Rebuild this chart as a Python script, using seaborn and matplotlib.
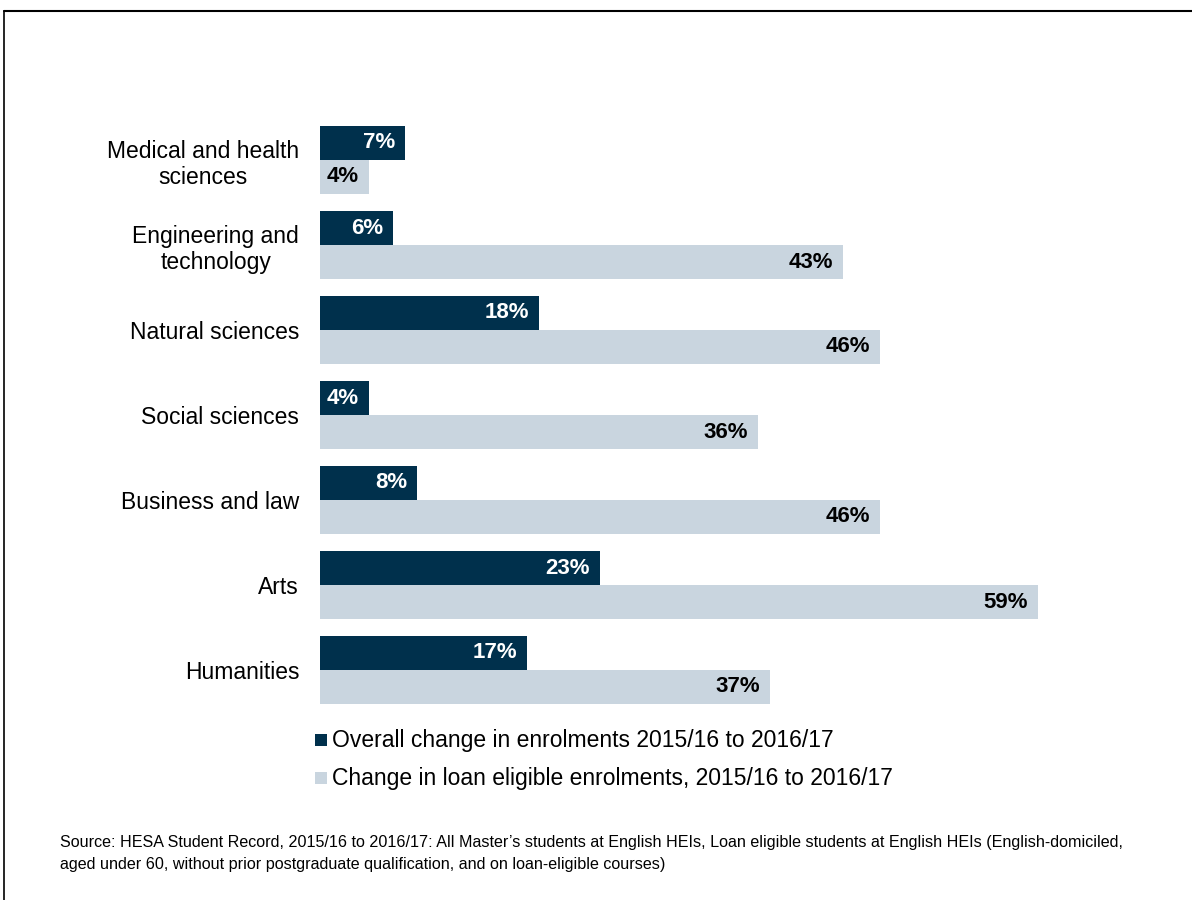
import matplotlib
matplotlib.use("Agg")
import matplotlib.pyplot as plt
import matplotlib.lines as mlines
import pandas as pd
import seaborn as sns

categories = ["Medical and health\nsciences", "Engineering and\ntechnology",
              "Natural sciences", "Social sciences", "Business and law",
              "Arts", "Humanities"]
overall = [7, 6, 18, 4, 8, 23, 17]
loan = [4, 43, 46, 36, 46, 59, 37]
series = ["Overall change in enrolments 2015/16 to 2016/17",
          "Change in loan eligible enrolments, 2015/16 to 2016/17"]
colors = ["#00304c", "#c9d5df"]

df = pd.DataFrame({
    "Subject": categories * 2,
    "Change": overall + loan,
    "Series": [series[0]] * len(categories) + [series[1]] * len(categories),
})

sns.set_style("white")
plt.rcParams["font.family"] = ["Liberation Sans", "DejaVu Sans"]
plt.rcParams["text.color"] = "black"
plt.rcParams["ytick.color"] = "black"
plt.rcParams["ytick.labelcolor"] = "black"

fig = plt.figure(figsize=(11.92, 9), dpi=100)
ax = fig.add_axes([320 / 1192, 1 - 712.5 / 900, 0.6534, 595 / 900])

sns.barplot(data=df, y="Subject", x="Change", hue="Series", orient="h",
            palette=colors, width=0.8, gap=0, saturation=1, linewidth=0,
            ax=ax, legend=False)

ax.set_xlim(0, 64)
ax.set_xlabel("")
ax.set_ylabel("")
ax.set_xticks([])
for s in ax.spines.values():
    s.set_visible(False)
ax.tick_params(axis="y", length=0, pad=15, labelsize=16.5)
for t in ax.get_yticklabels():
    t.set_multialignment("center")

# value labels inside bar ends
for cont, tc in zip(ax.containers, ["white", "black"]):
    for bar in cont:
        w = bar.get_width()
        ax.text(w - 0.8, bar.get_y() + bar.get_height() / 2, f"{w:.0f}%",
                ha="right", va="center", color=tc, fontsize=16, fontweight="bold")

# legend
for i, (lab, c) in enumerate(zip(series, colors)):
    y = 1 - (740 + 38 * i) / 900
    fig.add_artist(plt.Rectangle((315 / 1192, y - 6 / 900), 12 / 1192, 12 / 900,
                                 transform=fig.transFigure, color=c, lw=0))
    fig.text(332 / 1192, y, lab, fontsize=16.5, va="center", ha="left")

fig.text(60 / 1192, 1 - 842 / 900,
         "Source: HESA Student Record, 2015/16 to 2016/17: All Master\u2019s students at English HEIs, "
         "Loan eligible students at English HEIs (English-domiciled,",
         fontsize=11.6, va="center", ha="left")
fig.text(60 / 1192, 1 - 864 / 900,
         "aged under 60, without prior postgraduate qualification, and on loan-eligible courses)",
         fontsize=11.6, va="center", ha="left")

# frame lines
fig.add_artist(mlines.Line2D([4 / 1192, 1], [1 - 11 / 900, 1 - 11 / 900],
                             transform=fig.transFigure, color="black", lw=1.5))
fig.add_artist(mlines.Line2D([4 / 1192, 4 / 1192], [0, 1 - 11 / 900],
                             transform=fig.transFigure, color="black", lw=1.2))

fig.savefig("out.png", dpi=100)
